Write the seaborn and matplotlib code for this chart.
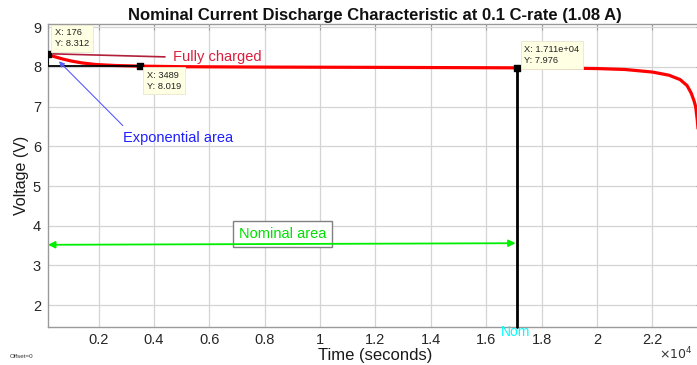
import matplotlib
matplotlib.use("Agg")
import matplotlib.pyplot as plt
import seaborn as sns
import pandas as pd
import numpy as np

# ---- data ----
time_s = [176, 400, 700, 1000, 1400, 1900, 2600, 3489, 5000, 8000, 12000, 17110,
          19000, 20000, 21000, 22000, 22600, 23000, 23250, 23400, 23500, 23560,
          23620, 23700, 23800]
voltage = [8.312, 8.26, 8.20, 8.15, 8.10, 8.06, 8.035, 8.019, 8.005, 7.995, 7.988,
           7.976, 7.968, 7.958, 7.935, 7.87, 7.79, 7.68, 7.53, 7.34, 7.15, 7.0,
           6.66, 6.0, 5.0]
tip_x = [176, 3489, 17110]
tip_y = [8.312, 8.019, 7.976]
tip_labels = ["X: 176\nY: 8.312", "X: 3489\nY: 8.019", "X: 1.711e+04\nY: 7.976"]
xticks = [2000, 4000, 6000, 8000, 10000, 12000, 14000, 16000, 18000, 20000, 22000]
xtick_labels = ["0.2", "0.4", "0.6", "0.8", "1", "1.2", "1.4", "1.6", "1.8", "2", "2.2"]
yticks = [2, 3, 4, 5, 6, 7, 8, 9]

df = pd.DataFrame({"Time": time_s, "Voltage": voltage})

sns.set_style("whitegrid")
plt.rcParams['font.family'] = ['Liberation Sans', 'DejaVu Sans']

W, H = 697, 365
fig = plt.figure(figsize=(W / 100, H / 100), dpi=100)
# axes in pixel coords: left 48, right 702 (cropped), top 24, bottom 327
ax = fig.add_axes([48 / W, 1 - 327 / H, (702 - 48) / W, (327 - 24) / H])

sns.lineplot(data=df, x="Time", y="Voltage", ax=ax, color="#ff0000", lw=2.3, sort=True)

ax.set_xlim(176, 23790)
ax.set_ylim(1.45, 9.08)
ax.set_xticks(xticks)
ax.set_xticklabels(xtick_labels)
ax.set_yticks(yticks)
ax.grid(True, color="#d4d4d4", lw=0.9)
for s in ax.spines.values():
    s.set_color("#9a9a9a")
    s.set_linewidth(1.0)
ax.tick_params(direction="in", length=4, color="#9a9a9a", labelsize=10.5,
               labelcolor="#262626", top=True, right=True)
ax.tick_params(axis="x", pad=4)
ax.tick_params(axis="y", pad=5)
ax.set_xlabel("Time (seconds)", fontsize=12, color="#1a1a1a", labelpad=1)
ax.set_ylabel("Voltage (V)", fontsize=11.5, color="#1a1a1a", labelpad=3)
ax.set_title("Nominal Current Discharge Characteristic at 0.1 C-rate (1.08 A)",
             fontsize=12, fontweight="bold", color="#111111", pad=3)

# black guide lines
ax.plot([tip_x[0], tip_x[0], tip_x[1]], [tip_y[0], tip_y[1], tip_y[1]],
        color="black", lw=1.3, zorder=3)
ax.plot([tip_x[2], tip_x[2]], [tip_y[2], 1.45], color="black", lw=2.0, zorder=3,
        clip_on=False)
ax.scatter(tip_x, tip_y, marker="s", s=22, color="black", zorder=5)

# datatips
tip_pos = [(420, 8.97), (3750, 7.90), (17380, 8.55)]
for (tx, ty), lab in zip(tip_pos, tip_labels):
    ax.text(tx, ty, lab, fontsize=6.7, va="top", ha="left", color="#222222",
            linespacing=1.25, zorder=6,
            bbox=dict(boxstyle="square,pad=0.4", fc="#ffffe3", ec="#e8e8d0", lw=0.6))

# Fully charged
ax.annotate("", xy=(260, 8.33), xytext=(4500, 8.25),
            arrowprops=dict(arrowstyle="-", color="#b0203a", lw=1.2), zorder=4)
ax.text(4700, 8.25, "Fully charged", color="#dc1e3c", fontsize=10.5,
        va="center", ha="left")

# Exponential area
ax.annotate("", xy=(500, 8.19), xytext=(2950, 6.47),
            arrowprops=dict(arrowstyle="-|>", color="#5a5aff", lw=0.8,
                            mutation_scale=8), zorder=4)
ax.text(2900, 6.21, "Exponential area", color="#1f1fff", fontsize=10.5,
        va="center", ha="left")

# Nominal area double arrow
ax.annotate("", xy=(176, 3.52), xytext=(17060, 3.56),
            arrowprops=dict(arrowstyle="<|-|>", color="#00ee00", lw=1.3,
                            mutation_scale=10, shrinkA=0, shrinkB=0), zorder=4)
ax.text(8640, 3.79, "Nominal area", color="#00e000", fontsize=10.5,
        va="center", ha="center",
        bbox=dict(boxstyle="square,pad=0.4", fc="white", ec="#808080", lw=1.0))

# Nom label
ax.text(17060, 1.33, "Nom", color="#00ffff", fontsize=10, va="center", ha="center",
        clip_on=False, zorder=7)

# figure texts
fig.text(10 / W, 1 - 357 / H, "Offset=0", fontsize=4.5, color="#333333",
         va="center", ha="left")
fig.text(692 / W, 1 - 354 / H, r"$\times10^{4}$", fontsize=9, color="#333333",
         va="center", ha="right")

fig.savefig("out.png", dpi=100)
